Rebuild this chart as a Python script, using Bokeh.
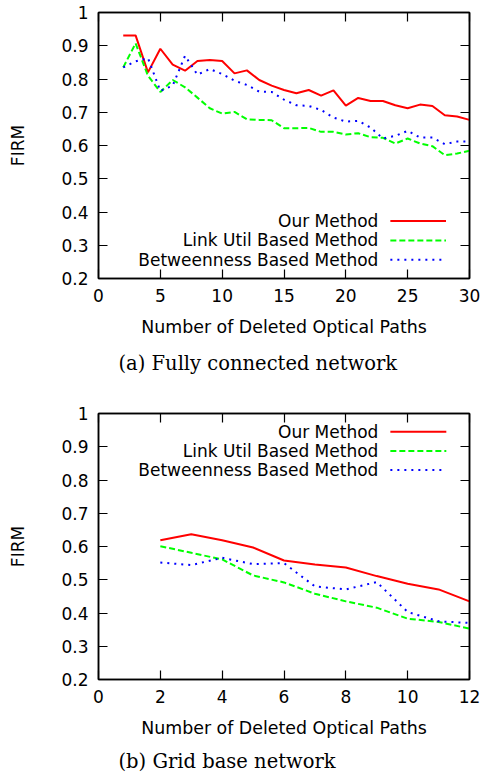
from bokeh.plotting import figure
from bokeh.models import Range1d, LinearAxis, FixedTicker, CustomJSTickFormatter, Title, Label
from bokeh.layouts import column
from bokeh.embed import file_html
from bokeh.resources import INLINE

# ---------------- data ----------------
series_names = ["Our Method", "Link Util Based Method", "Betweenness Based Method"]

x_full = list(range(2, 31))
our_full = [0.931, 0.931, 0.820, 0.891, 0.843, 0.825, 0.854, 0.857, 0.854, 0.817,
            0.826, 0.797, 0.780, 0.767, 0.757, 0.767, 0.750, 0.766, 0.720, 0.743,
            0.734, 0.734, 0.721, 0.712, 0.723, 0.719, 0.691, 0.687, 0.677]
link_full = [0.835, 0.907, 0.810, 0.761, 0.797, 0.775, 0.744, 0.712, 0.696, 0.701,
             0.679, 0.677, 0.676, 0.652, 0.652, 0.653, 0.641, 0.641, 0.633, 0.637,
             0.625, 0.623, 0.606, 0.621, 0.606, 0.598, 0.571, 0.576, 0.584]
betw_full = [0.835, 0.853, 0.863, 0.764, 0.780, 0.870, 0.813, 0.830, 0.815, 0.795,
             0.782, 0.762, 0.761, 0.738, 0.721, 0.719, 0.707, 0.684, 0.672, 0.674,
             0.654, 0.621, 0.629, 0.644, 0.624, 0.624, 0.604, 0.612, 0.612]

x_grid = list(range(2, 13))
our_grid = [0.619, 0.637, 0.619, 0.597, 0.558, 0.546, 0.537, 0.511, 0.488, 0.471, 0.435]
link_grid = [0.601, 0.581, 0.561, 0.513, 0.492, 0.458, 0.435, 0.416, 0.383, 0.373, 0.353]
betw_grid = [0.552, 0.544, 0.566, 0.547, 0.550, 0.480, 0.471, 0.493, 0.403, 0.375, 0.370]

y_ticks = [0.2, 0.3, 0.4, 0.5, 0.6, 0.7, 0.8, 0.9, 1.0]
x_ticks_full = [0, 5, 10, 15, 20, 25, 30]
x_ticks_grid = [0, 2, 4, 6, 8, 10, 12]

x_title = "Number of Deleted Optical Paths"
y_title = "FIRM"
caption_full = "(a) Fully connected network"
caption_grid = "(b) Grid base network"

# ---------------- styles ----------------
FONT = "DejaVu Sans"
FS = "17px"
COLORS = ["#ff0000", "#00ff00", "#0000ff"]
DASHES = ["solid", "6 3", "2 5"]


def style_axis(ax, show_labels=True):
    ax.axis_line_color = "black"
    ax.axis_line_width = 1.5
    ax.major_tick_line_color = "black"
    ax.major_tick_line_width = 1.2
    ax.major_tick_in = 9
    ax.major_tick_out = 0
    ax.minor_tick_line_color = None
    ax.major_label_text_font = FONT
    ax.major_label_text_color = "black"
    if show_labels:
        ax.major_label_text_font_size = FS
        ax.major_label_standoff = 10
    else:
        ax.major_label_text_font_size = "1px"
        ax.major_label_text_color = None
        ax.major_label_standoff = 0


def make_fig(height, border_top, border_bottom, xmax, xticks, xs, ys_list,
             caption, caption_standoff, legend_x0, legend_x1, legend_ys):
    p = figure(width=483, height=height, output_backend="svg", toolbar_location=None,
               x_range=Range1d(0, xmax), y_range=Range1d(0.2, 1.0),
               min_border_left=98, min_border_right=14,
               min_border_top=border_top, min_border_bottom=border_bottom)
    p.grid.visible = False
    p.outline_line_color = "black"
    p.outline_line_width = 1.5
    p.background_fill_color = "white"
    p.border_fill_color = "white"

    yfmt = CustomJSTickFormatter(code="return (Math.abs(tick - 1) < 1e-9) ? '1' : tick.toFixed(1);")

    xa = p.xaxis[0]
    style_axis(xa)
    xa.ticker = FixedTicker(ticks=xticks)
    xa.axis_label = x_title
    xa.axis_label_text_font = FONT
    xa.axis_label_text_font_size = "17.4px"
    xa.axis_label_text_font_style = "normal"
    xa.axis_label_text_color = "black"
    xa.axis_label_standoff = 12

    ya = p.yaxis[0]
    style_axis(ya)
    ya.ticker = FixedTicker(ticks=y_ticks)
    ya.formatter = yfmt
    ya.axis_label = y_title
    ya.axis_label_text_font = FONT
    ya.axis_label_text_font_size = FS
    ya.axis_label_text_font_style = "normal"
    ya.axis_label_text_color = "black"
    ya.axis_label_standoff = 30

    top = LinearAxis(ticker=FixedTicker(ticks=xticks))
    style_axis(top, False)
    p.add_layout(top, "above")
    right = LinearAxis(ticker=FixedTicker(ticks=y_ticks))
    style_axis(right, False)
    p.add_layout(right, "right")

    for ys, col, dash in zip(ys_list, COLORS, DASHES):
        p.line(xs, ys, line_color=col, line_width=2, line_dash=dash)

    # gnuplot-style legend: text on the left, sample line on the right
    for name, col, dash, ly in zip(series_names, COLORS, DASHES, legend_ys):
        p.line([legend_x0, legend_x1], [ly, ly], line_color=col, line_width=2, line_dash=dash)
        p.add_layout(Label(x=legend_x0, y=ly, x_offset=-12, text=name,
                           text_align="right", text_baseline="middle",
                           text_font=FONT, text_font_size=FS, text_color="black"))

    # sub-figure caption below the x-axis title
    t = Title(text=caption, align="left", text_font="DejaVu Serif",
              text_font_size="19.5px", text_font_style="normal", text_color="black",
              offset=20, standoff=caption_standoff)
    p.add_layout(t, "below")
    return p


p1 = make_fig(390, 12, 112, 30, x_ticks_full, x_full, [our_full, link_full, betw_full],
              caption_full, 21, 23.6, 28.1, [0.3726, 0.3145, 0.2563])
p2 = make_fig(389, 23, 100, 12, x_ticks_grid, x_grid, [our_grid, link_grid, betw_grid],
              caption_grid, 14, 9.44, 11.25, [0.945, 0.887, 0.830])

layout = column(p1, p2, spacing=0)
open("out.html", "w").write(file_html(layout, INLINE))
